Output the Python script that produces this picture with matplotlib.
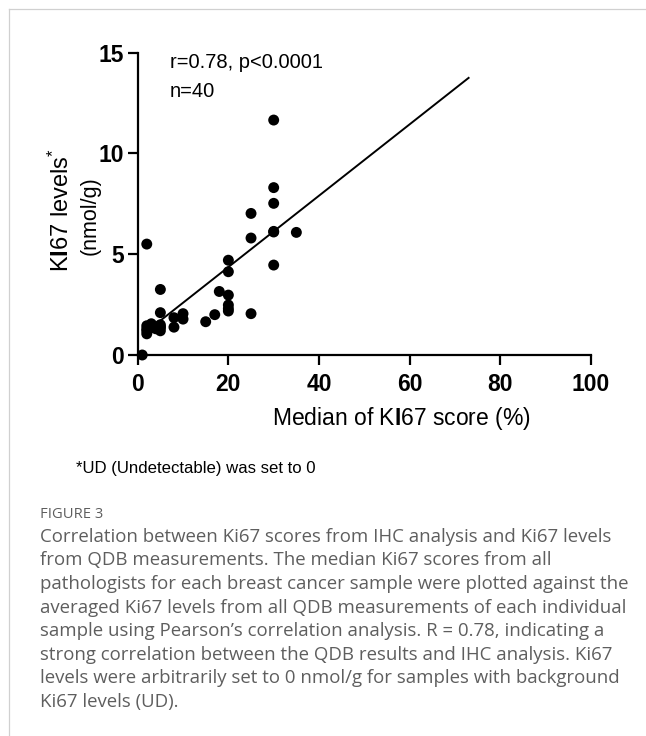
import matplotlib
matplotlib.use('Agg')
import matplotlib.pyplot as plt
from matplotlib.lines import Line2D

# ---------------- data ----------------
ki67_score = [1, 2, 5, 5, 2, 2, 2, 3, 3, 4, 5, 5, 5, 8, 8, 10, 10, 15, 17, 18,
              20, 20, 20, 20, 20, 25, 25, 25, 30, 30, 30, 30, 30, 35,
              2, 3, 4, 5, 20, 30]
ki67_level = [0.0, 5.5, 3.25, 2.1, 1.45, 1.2, 1.05, 1.55, 1.4, 1.3, 1.5, 1.35, 1.2,
              1.85, 1.38, 2.05, 1.78, 1.65, 2.0, 3.15,
              4.7, 4.13, 2.97, 2.48, 2.18, 7.02, 5.8, 2.05,
              11.65, 8.3, 7.52, 6.13, 4.46, 6.08,
              1.3, 1.35, 1.4, 1.4, 2.3, 6.1]
fit_slope = 0.177
fit_intercept = 0.82
fit_x_range = [4, 73]
x_ticks = [0, 20, 40, 60, 80, 100]
y_ticks = [0, 5, 10, 15]
stat_lines = ["r=0.78, p<0.0001", "n=40"]
x_label = r"Median of K$\mathbf{I}$67 score (%)"
y_label_1 = r"K$\mathbf{I}$67 levels$^{*}$"
y_label_2 = "(nmol/g)"
footnote = "*UD (Undetectable) was set to 0"
fig_title = "FIGURE 3"
caption_lines = [
    "Correlation between Ki67 scores from IHC analysis and Ki67 levels",
    "from QDB measurements. The median Ki67 scores from all",
    "pathologists for each breast cancer sample were plotted against the",
    "averaged Ki67 levels from all QDB measurements of each individual",
    "sample using Pearson\u2019s correlation analysis. R = 0.78, indicating a",
    "strong correlation between the QDB results and IHC analysis. Ki67",
    "levels were arbitrarily set to 0 nmol/g for samples with background",
    "Ki67 levels (UD).",
]

# ---------------- style ----------------
plt.rcParams['font.family'] = ['Liberation Sans', 'DejaVu Sans']
plt.rcParams['mathtext.fontset'] = 'custom'
plt.rcParams['mathtext.rm'] = 'Liberation Sans'
plt.rcParams['mathtext.it'] = 'Liberation Sans:italic'
plt.rcParams['mathtext.bf'] = 'Liberation Sans:bold'
plt.rcParams['mathtext.sf'] = 'Liberation Sans'

W, H = 646, 736
fig = plt.figure(figsize=(W / 100, H / 100), dpi=100)


def fx(x):
    return x / W


def fy(y):
    return 1 - y / H


x0, x1 = 137.7, 591.0
y0, y1 = 355.0, 52.5
ax = fig.add_axes([fx(x0), fy(y0), (x1 - x0) / W, (y0 - y1) / H])

ax.scatter(ki67_score, ki67_level, s=62, color='black', edgecolors='none',
           zorder=3, clip_on=False)
fy_line = [fit_intercept + fit_slope * v for v in fit_x_range]
ax.plot(fit_x_range, fy_line, color='black', lw=1.4, zorder=2, clip_on=False)

ax.set_xlim(0, 100)
ax.set_ylim(0, 15)
ax.set_xticks(x_ticks)
ax.set_yticks(y_ticks)
ax.set_xticklabels([str(v) for v in x_ticks])
ax.set_yticklabels([str(v) for v in y_ticks])
for s in ['top', 'right']:
    ax.spines[s].set_visible(False)
for s in ['left', 'bottom']:
    ax.spines[s].set_linewidth(1.6)
ax.tick_params(axis='both', direction='out', length=7.5, width=1.6,
               labelsize=16.5, colors='black')
ax.tick_params(axis='x', pad=5.5)
ax.tick_params(axis='y', pad=2.5)
for lab in ax.get_xticklabels() + ax.get_yticklabels():
    lab.set_fontweight('bold')

# stats annotation
fig.text(fx(170), fy(68.3), stat_lines[0], fontsize=14.5, va='baseline', ha='left')
fig.text(fx(170), fy(97.0), stat_lines[1], fontsize=14.5, va='baseline', ha='left')

# axis labels
fig.text(fx(401.5), fy(419), x_label, fontsize=16.5, ha='center', va='center')
fig.text(fx(61.5), fy(210), y_label_1, fontsize=17, rotation=90,
         ha='center', va='center')
fig.text(fx(90), fy(215.5), y_label_2, fontsize=15.5, rotation=90,
         ha='center', va='center')

# footnote
fig.text(fx(76), fy(472.5), footnote, fontsize=12.1, ha='left', va='baseline')

# caption
cap_color = '#5e5e5e'
renderer = fig.canvas.get_renderer()
probe = fig.text(0, 0, caption_lines[0], fontsize=12, family='Open Sans')
w = probe.get_window_extent(renderer).width
probe.remove()
cap_fs = 12 * 567.0 / w

probe = fig.text(0, 0, fig_title, fontsize=11, family='Open Sans')
w2 = probe.get_window_extent(renderer).width
probe.remove()
title_fs = 11 * 62.6 / w2

fig.text(fx(40.5), fy(518.3), fig_title, fontsize=title_fs, family='Open Sans',
         color=cap_color, ha='left', va='baseline')
base = 541.7
step = (707.0 - 541.7) / 7
for i, line in enumerate(caption_lines):
    fig.text(fx(40.5), fy(base + i * step), line, fontsize=cap_fs,
             family='Open Sans', color=cap_color, ha='left', va='baseline')

# frame lines
fig.add_artist(Line2D([fx(9.3), 1], [fy(9.3), fy(9.3)], transform=fig.transFigure,
                      color='#d0d0d0', lw=0.9))
fig.add_artist(Line2D([fx(9.3), fx(9.3)], [fy(9.3), 0], transform=fig.transFigure,
                      color='#d0d0d0', lw=0.9))

fig.savefig('out.png', dpi=100)
